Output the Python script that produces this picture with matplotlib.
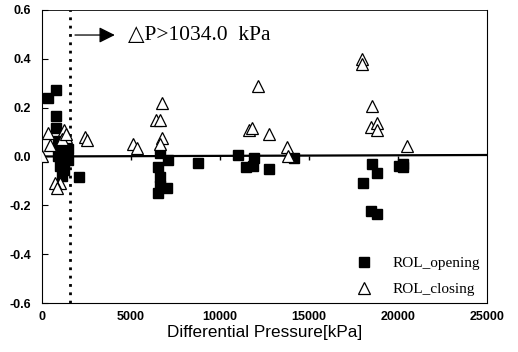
import matplotlib
matplotlib.use("Agg")
import matplotlib.pyplot as plt

# Data
open_x = [340, 790, 790, 790, 900, 1130, 1010, 1350, 900, 1470, 1010, 1240, 1470, 1130, 2090,
          6650, 6540, 6650, 6650, 6540, 7050, 7100, 8740,
          10990, 11900, 11440, 11840, 12740, 14150,
          18550, 18830, 18040, 18490, 18830, 20070, 20290, 20290]
open_y = [0.238, 0.27, 0.164, 0.115, 0.065, 0.045, 0.025, 0.005, 0.0, -0.016, -0.037, -0.057, 0.03, -0.08, -0.086,
          0.016, -0.045, -0.086, -0.12, -0.15, -0.13, -0.016, -0.025,
          0.004, -0.008, -0.045, -0.037, -0.05, -0.008,
          -0.03, -0.066, -0.11, -0.225, -0.234, -0.037, -0.03, -0.045]

close_x = [0, 340, 450, 1240, 1350, 1010, 730, 845, 2420, 2540, 1130, 1350,
           5130, 5360, 6760, 6430, 6650, 6760, 6650,
           12120, 11610, 11780, 12740, 13750, 13810,
           17980, 17980, 18550, 18490, 18830, 18830, 20520]
close_y = [0.0, 0.094, 0.045, 0.107, 0.078, -0.11, -0.11, -0.13, 0.078, 0.066, 0.07, 0.09,
           0.053, 0.033, 0.217, 0.148, 0.148, 0.074, 0.053,
           0.287, 0.11, 0.115, 0.09, 0.037, 0.0,
           0.40, 0.38, 0.205, 0.12, 0.135, 0.11, 0.041]

fit_x = [0, 25000]
fit_y = [0.0, 0.006]

limit_x = 1600
x_ticks = [0, 5000, 10000, 15000, 20000, 25000]
y_ticks = [-0.6, -0.4, -0.2, 0.0, 0.2, 0.4, 0.6]
y_ticklabels = ["-0.6", "-0.4", "-0.2", "0.0", "0.2", "0.4", "0.6"]

fig = plt.figure(figsize=(5.18, 3.52), dpi=100)
ax = fig.add_axes([0.081, 0.139, 0.859, 0.833])

ax.plot(fit_x, fit_y, color="black", lw=1.6, zorder=2)
ax.plot(open_x, open_y, linestyle="none", marker="s", ms=7.8, mfc="black", mec="black",
        label="ROL_opening", zorder=3)
ax.plot(close_x, close_y, linestyle="none", marker="^", ms=8, mfc="white", mec="black",
        mew=0.9, label="ROL_closing", zorder=4)

ax.axvline(limit_x, color="black", lw=2.0, linestyle=(0, (1, 2)), zorder=1)

ax.annotate("", xy=(4250, 0.497), xytext=(limit_x + 100, 0.497),
            arrowprops=dict(arrowstyle="-|>", color="black", lw=0.9, mutation_scale=24))
ax.text(4850, 0.497, "\u25b3P>1034.0  kPa", fontsize=15.5, va="center", ha="left",
        family=["Liberation Serif", "DejaVu Serif"])

ax.set_xlim(0, 25000)
ax.set_ylim(-0.6, 0.6)
ax.set_xticks(x_ticks)
ax.set_xticklabels([str(v) for v in x_ticks], fontweight="bold", fontsize=9,
                   family="Liberation Sans")
ax.set_yticks(y_ticks)
ax.set_yticklabels(y_ticklabels, fontweight="bold", fontsize=9, family="Liberation Sans")
ax.tick_params(axis="x", length=0, pad=6)
ax.tick_params(axis="y", direction="in", length=4, width=0.8, pad=8)

sec = ax.secondary_xaxis(0.5)
sec.set_xticks(x_ticks[1:-1])
sec.tick_params(direction="in", length=3, width=1.0, labelbottom=False, labeltop=False)
sec.spines["bottom"].set_visible(False)
sec.spines["top"].set_visible(False)

for s in ax.spines.values():
    s.set_linewidth(0.8)
ax.spines["top"].set_linewidth(0.6)

ax.set_xlabel("Differential Pressure[kPa]", fontsize=12.3, family="Liberation Sans",
              labelpad=1)

leg = ax.legend(loc="lower right", frameon=False, handletextpad=0.9, labelspacing=0.8,
                prop={"family": "Liberation Serif", "size": 11}, borderaxespad=0.05)

fig.savefig("out.png", dpi=100)
